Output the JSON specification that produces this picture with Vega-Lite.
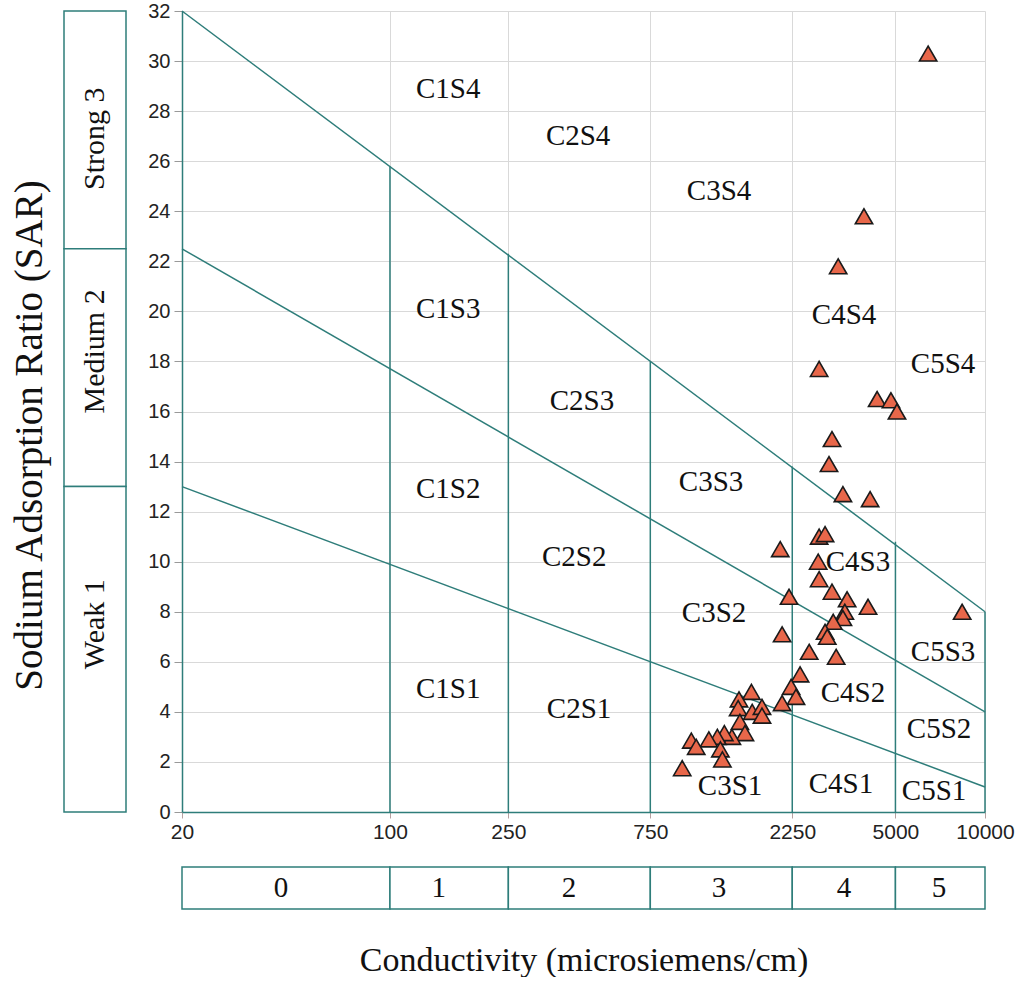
{
  "$schema": "https://vega.github.io/schema/vega-lite/v6.json",
  "background": "white",
  "padding": {"left": 10, "top": 1, "right": 0, "bottom": 0},
  "config": {"view": {"stroke": null}},
  "bounds": "flush",
  "spacing": 56,
  "hconcat": [
    {
      "width": 62,
      "height": 801,
      "data": {"values": [
        {"level": "Strong 3", "from": 22.5, "to": 32, "labelY": 26.9},
        {"level": "Medium 2", "from": 13, "to": 22.5, "labelY": 18.4},
        {"level": "Weak 1", "from": 0, "to": 13, "labelY": 7.5}
      ]},
      "layer": [
        {
          "mark": {"type": "rect", "fill": "white", "stroke": "#2E7D7A", "strokeWidth": 1.5},
          "encoding": {
            "y": {"field": "from", "type": "quantitative", "scale": {"domain": [0, 32], "nice": false},
              "axis": {"title": "Sodium Adsorption Ratio (SAR)", "labels": false, "ticks": false, "domain": false, "grid": false,
                "titleFont": "Liberation Serif", "titleFontSize": 39, "titleFontWeight": "normal", "titleColor": "#111", "titlePadding": 15, "titleY": 424}},
            "y2": {"field": "to"}
          }
        },
        {
          "mark": {"type": "text", "angle": 270, "font": "Liberation Serif", "fontSize": 30, "align": "center", "baseline": "middle", "color": "#111"},
          "encoding": {
            "y": {"field": "labelY", "type": "quantitative"},
            "text": {"field": "level"}
          }
        }
      ]
    },
    {
      "bounds": "flush",
      "spacing": 55,
      "vconcat": [
        {
          "width": 803,
          "height": 801,
          "layer": [
            {
              "data": {"values": [
                {"x": 100, "top": 25.8}, {"x": 250, "top": 22.3}, {"x": 750, "top": 18.0},
                {"x": 2250, "top": 13.8}, {"x": 5000, "top": 10.8}, {"x": 10000, "top": 8}
              ]},
              "mark": {"type": "rule", "color": "#2E7D7A", "strokeWidth": 1.5},
              "encoding": {
                "x": {"field": "x", "type": "quantitative",
                  "scale": {"type": "log", "domain": [20, 10000], "nice": false},
                  "axis": {"title": null, "values": [20, 100, 250, 750, 2250, 5000, 10000], "format": "d", "labelFlush": false,
                    "grid": true, "gridColor": "#d9d9d9", "domainColor": "#2E7D7A", "domainWidth": 1.5,
                    "tickColor": "#b5a0a0", "tickSize": 6, "labelFont": "Liberation Sans", "labelFontSize": 21, "labelColor": "#222", "labelPadding": 3}},
                "y": {"field": "top", "type": "quantitative",
                  "scale": {"domain": [0, 32], "nice": false},
                  "axis": {"title": null, "values": [0, 2, 4, 6, 8, 10, 12, 14, 16, 18, 20, 22, 24, 26, 28, 30, 32], "labelFlush": false,
                    "grid": true, "gridColor": "#d9d9d9", "domainColor": "#2E7D7A", "domainWidth": 1.5,
                    "tickColor": "#999", "tickSize": 8, "labelFont": "Liberation Sans", "labelFontSize": 20, "labelColor": "#222", "labelPadding": 4}},
                "y2": {"datum": 0}
              }
            },
            {
              "data": {"values": [
                {"line": "S4", "x": 20, "y": 32}, {"line": "S4", "x": 10000, "y": 8},
                {"line": "S3", "x": 20, "y": 22.5}, {"line": "S3", "x": 10000, "y": 4},
                {"line": "S2", "x": 20, "y": 13}, {"line": "S2", "x": 10000, "y": 1}
              ]},
              "mark": {"type": "line", "color": "#2E7D7A", "strokeWidth": 1.5},
              "encoding": {
                "x": {"field": "x", "type": "quantitative"},
                "y": {"field": "y", "type": "quantitative"},
                "detail": {"field": "line"}
              }
            },
            {
              "data": {"values": [
                {"label": "C1S4", "x": 157, "y": 28.9}, {"label": "C2S4", "x": 429, "y": 27.0},
                {"label": "C3S4", "x": 1277, "y": 24.8}, {"label": "C1S3", "x": 157, "y": 20.1},
                {"label": "C4S4", "x": 3360, "y": 19.85}, {"label": "C5S4", "x": 7230, "y": 17.9},
                {"label": "C2S3", "x": 442, "y": 16.4}, {"label": "C3S3", "x": 1200, "y": 13.2},
                {"label": "C1S2", "x": 157, "y": 12.9}, {"label": "C2S2", "x": 416, "y": 10.2},
                {"label": "C4S3", "x": 3740, "y": 10.0}, {"label": "C3S2", "x": 1228, "y": 7.95},
                {"label": "C5S3", "x": 7230, "y": 6.4}, {"label": "C1S1", "x": 157, "y": 4.9},
                {"label": "C4S2", "x": 3600, "y": 4.75}, {"label": "C2S1", "x": 432, "y": 4.1},
                {"label": "C5S2", "x": 7010, "y": 3.3}, {"label": "C3S1", "x": 1390, "y": 1.05},
                {"label": "C4S1", "x": 3280, "y": 1.1}, {"label": "C5S1", "x": 6740, "y": 0.85}
              ]},
              "mark": {"type": "text", "font": "Liberation Serif", "fontSize": 29, "align": "center", "baseline": "middle", "color": "#111"},
              "encoding": {
                "x": {"field": "x", "type": "quantitative"},
                "y": {"field": "y", "type": "quantitative"},
                "text": {"field": "label"}
              }
            },
            {
              "data": {"values": [
                {"ec": 6440, "sar": 30.3}, {"ec": 3920, "sar": 23.8}, {"ec": 3210, "sar": 21.8},
                {"ec": 2770, "sar": 17.7}, {"ec": 4340, "sar": 16.5}, {"ec": 4830, "sar": 16.45},
                {"ec": 5060, "sar": 16.0}, {"ec": 3060, "sar": 14.9}, {"ec": 2990, "sar": 13.9},
                {"ec": 3330, "sar": 12.7}, {"ec": 4110, "sar": 12.5}, {"ec": 2770, "sar": 11.0},
                {"ec": 2900, "sar": 11.1}, {"ec": 2050, "sar": 10.5}, {"ec": 2750, "sar": 10.0},
                {"ec": 2770, "sar": 9.3}, {"ec": 3060, "sar": 8.8}, {"ec": 3440, "sar": 8.5},
                {"ec": 2195, "sar": 8.6}, {"ec": 4045, "sar": 8.2}, {"ec": 3380, "sar": 8.0},
                {"ec": 3330, "sar": 7.75}, {"ec": 3090, "sar": 7.6}, {"ec": 2900, "sar": 7.2},
                {"ec": 2950, "sar": 7.0}, {"ec": 2080, "sar": 7.1}, {"ec": 2565, "sar": 6.4},
                {"ec": 3160, "sar": 6.2}, {"ec": 2390, "sar": 5.5}, {"ec": 2230, "sar": 5.0},
                {"ec": 2316, "sar": 4.6}, {"ec": 2080, "sar": 4.35}, {"ec": 1640, "sar": 4.8},
                {"ec": 1490, "sar": 4.5}, {"ec": 1480, "sar": 4.15}, {"ec": 1650, "sar": 4.0},
                {"ec": 1780, "sar": 4.2}, {"ec": 1780, "sar": 3.85}, {"ec": 1500, "sar": 3.6},
                {"ec": 1560, "sar": 3.15}, {"ec": 1410, "sar": 3.0}, {"ec": 1330, "sar": 3.15},
                {"ec": 1260, "sar": 3.0}, {"ec": 1180, "sar": 2.9}, {"ec": 1030, "sar": 2.85},
                {"ec": 1070, "sar": 2.6}, {"ec": 1290, "sar": 2.5}, {"ec": 1310, "sar": 2.1},
                {"ec": 960, "sar": 1.75}, {"ec": 8380, "sar": 8.0}
              ]},
              "mark": {"type": "point", "shape": "triangle-up", "size": 300, "filled": true, "fill": "#E8674A", "stroke": "#1a1a1a", "strokeWidth": 1.6, "opacity": 1},
              "encoding": {
                "x": {"field": "ec", "type": "quantitative"},
                "y": {"field": "sar", "type": "quantitative"}
              }
            }
          ]
        },
        {
          "width": 803,
          "height": 42,
          "data": {"values": [
            {"cls": "0", "from": 20, "to": 100, "mid": 43},
            {"cls": "1", "from": 100, "to": 250, "mid": 146},
            {"cls": "2", "from": 250, "to": 750, "mid": 400},
            {"cls": "3", "from": 750, "to": 2250, "mid": 1277},
            {"cls": "4", "from": 2250, "to": 5000, "mid": 3360},
            {"cls": "5", "from": 5000, "to": 10000, "mid": 7010}
          ]},
          "layer": [
            {
              "mark": {"type": "rect", "fill": "white", "stroke": "#2E7D7A", "strokeWidth": 1.5},
              "encoding": {
                "x": {"field": "from", "type": "quantitative",
                  "scale": {"type": "log", "domain": [20, 10000], "nice": false},
                  "axis": {"title": "Conductivity (microsiemens/cm)", "labels": false, "ticks": false, "domain": false, "grid": false,
                    "titleFont": "Liberation Serif", "titleFontSize": 34, "titleFontWeight": "normal", "titleColor": "#111", "titlePadding": 34}},
                "x2": {"field": "to"}
              }
            },
            {
              "mark": {"type": "text", "font": "Liberation Serif", "fontSize": 29, "align": "center", "baseline": "middle", "color": "#111"},
              "encoding": {
                "x": {"field": "mid", "type": "quantitative"},
                "text": {"field": "cls"}
              }
            }
          ]
        }
      ]
    }
  ]
}
